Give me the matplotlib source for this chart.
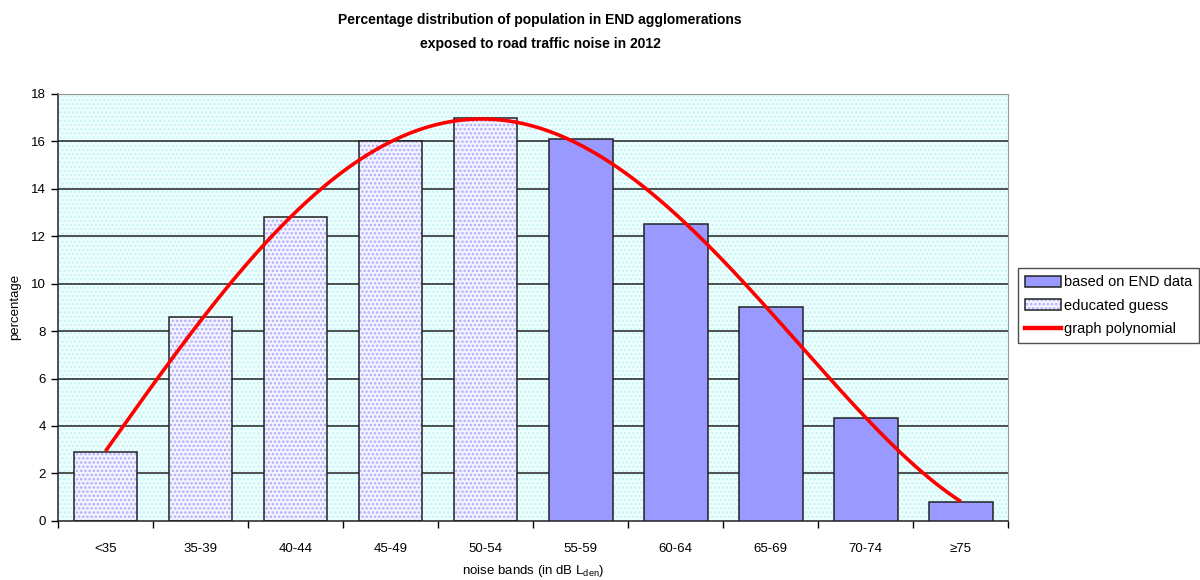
"""Noise exposure distribution in END agglomerations (2012)."""

import numpy as np
import matplotlib
matplotlib.use("Agg")
import matplotlib.pyplot as plt
from matplotlib.patches import Patch
from matplotlib.lines import Line2D

bands = ["<35", "35-39", "40-44", "45-49", "50-54",
         "55-59", "60-64", "65-69", "70-74", "≥75"]
guess_share = [2.9, 8.6, 12.8, 16.0, 17.0]        # educated guess
end_share = [16.1, 12.5, 9.0, 4.35, 0.8]          # based on END data
guess_idx = [0, 1, 2, 3, 4]
end_idx = [5, 6, 7, 8, 9]
y_ticks = [0, 2, 4, 6, 8, 10, 12, 14, 16, 18]

plt.rcParams["font.family"] = ["Liberation Sans", "DejaVu Sans"]
plt.rcParams["hatch.linewidth"] = 1.2

fig = plt.figure(figsize=(12, 5.8), dpi=100, facecolor="white")
ax = fig.add_axes([0.0483, 0.102, 0.792, 0.736])

# dotted light-cyan plot area
ax.set_facecolor("#EEFFFF")
bg = plt.Rectangle((0, 0), 1, 1, transform=ax.transAxes, facecolor="#EEFFFF",
                   edgecolor="#C8F4F4", hatch="....", linewidth=0, zorder=0)
ax.add_patch(bg)

for y in y_ticks[1:]:
    ax.axhline(y, color="#222222", linewidth=1.1, zorder=1)

ax.bar(guess_idx, guess_share, width=0.67, facecolor="#F4F4FF", edgecolor="#ACACFF",
       hatch="....", linewidth=0, zorder=2)
ax.bar(guess_idx, guess_share, width=0.67, facecolor="none", edgecolor="#222222",
       linewidth=1.1, zorder=3)
ax.bar(end_idx, end_share, width=0.67, facecolor="#9999FF", edgecolor="#222222",
       linewidth=1.1, zorder=3)

# polynomial trend line fitted to all bands
all_idx = guess_idx + end_idx
all_share = guess_share + end_share
coef = np.polyfit(all_idx, all_share, 4)
xs = np.linspace(0, 9, 200)
ax.plot(xs, np.polyval(coef, xs), color="#FF0000", linewidth=2.6, zorder=4,
        solid_capstyle="butt")

ax.set_xlim(-0.5, 9.5)
ax.set_ylim(0, 18)
ax.set_yticks(y_ticks)
ax.set_xticks(range(len(bands)))
ax.set_xticklabels(bands)
ax.set_xticks(np.arange(-0.5, 10, 1), minor=True)
ax.tick_params(axis="x", which="major", length=0, pad=16, labelsize=9.5)
ax.tick_params(axis="x", which="minor", length=5, direction="out", width=1)
ax.tick_params(axis="y", length=5, direction="out", width=1, labelsize=9.5)

for side in ("left", "bottom"):
    ax.spines[side].set_color("#222222")
    ax.spines[side].set_linewidth(1.1)
for side in ("top", "right"):
    ax.spines[side].set_color("#999999")
    ax.spines[side].set_linewidth(0.8)

ax.set_xlabel(r"noise bands (in dB L$_{\mathregular{den}}$)", fontsize=9.5, labelpad=6)
ax.set_ylabel("percentage", fontsize=9.5, labelpad=7)

fig.text(0.45, 0.978, "Percentage distribution of population in END agglomerations\n"
         "exposed to road traffic noise in 2012", ha="center", va="top",
         fontsize=10, fontweight="bold", linespacing=1.95)

guess_dots = Patch(facecolor="#F4F4FF", edgecolor="#ACACFF", hatch="....", linewidth=0)
guess_frame = Patch(facecolor="none", edgecolor="#222222", linewidth=1.1)
handles = [
    Patch(facecolor="#9999FF", edgecolor="#222222", linewidth=1.1),
    (guess_dots, guess_frame),
    Line2D([], [], color="#FF0000", linewidth=3.2),
]
labels = ["based on END data", "educated guess", "graph polynomial"]
leg = fig.legend(handles, labels, loc="center left", bbox_to_anchor=(0.848, 0.473),
                 fontsize=10.5, frameon=True, fancybox=False, edgecolor="#222222",
                 handlelength=2.5, handleheight=0.8, handletextpad=0.15,
                 borderpad=0.5, labelspacing=0.65, borderaxespad=0)
leg.get_frame().set_linewidth(1.0)

fig.savefig("out.png", dpi=100)
